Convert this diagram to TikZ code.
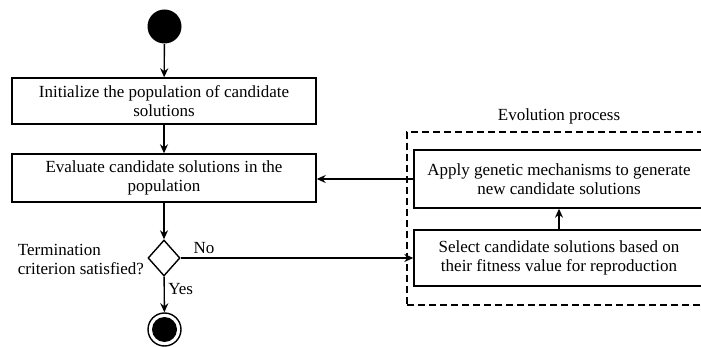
\documentclass[tikz,border=0pt]{standalone}
\usepackage{fontspec}
\setmainfont{Liberation Serif}
\usetikzlibrary{shapes.geometric, arrows.meta, positioning}

\begin{document}
\begin{tikzpicture}[x=1pt, y=-1pt, >={Stealth[length=9pt, width=8pt]},
    font=\fontsize{17}{19.5}\selectfont, line width=1.4pt]
    \tikzset{
      stepbox/.style={draw, rectangle, align=center, inner sep=2pt},
      decision/.style={draw, diamond, minimum width=32pt, minimum height=36pt, inner sep=0pt, aspect=0.9},
      flow/.style={->}
    }
    \useasboundingbox (0,0) rectangle (701,347);
    \clip (0,0) rectangle (701,347);
    % Start and main flow
    \node[circle, fill=black, minimum size=34pt, inner sep=0pt] (start) at (164.5,26.5) {};
    \node[stepbox, minimum width=304pt, minimum height=46pt] (init) at (164,101)
      {Initialize the population of candidate\\solutions};
    \node[stepbox, minimum width=304pt, minimum height=48pt] (eval) at (164,178)
      {Evaluate candidate solutions in the\\population};
    \node[decision] (check) at (164,258) {};
    \node[align=left, anchor=east] (critlabel) at (148,259.5)
      {Termination\\criterion satisfied?};
    \node[circle, draw, minimum size=33pt, inner sep=0pt] (stop) at (164.5,329.5) {};
    \node[circle, fill=black, minimum size=25pt, inner sep=0pt] (stopin) at (stop) {};
    % Evolution process
    \node[stepbox, minimum width=290pt, minimum height=58pt] (apply) at (559,179)
      {Apply genetic mechanisms to generate\\new candidate solutions};
    \node[stepbox, minimum width=290pt, minimum height=56pt] (select) at (559,258)
      {Select candidate solutions based on\\their fitness value for reproduction};
    \node[draw, dashed, dash pattern=on 7pt off 4pt, minimum width=304pt, minimum height=173pt] (evo) at (559,218.5) {};
    \node (evolabel) at (559,116) {Evolution process};
    % Connectors
    \draw[flow] (start) -- (init);
    \draw[flow] (init) -- (eval);
    \draw[flow] (eval) -- (check);
    \draw[flow] (check) -- node[right, pos=0.35] (yes) {Yes} (stop);
    \draw[flow] (check.east) -- node[above, pos=0.1] (no) {No} (select.west);
    \draw[flow] (select) -- (apply);
    \draw[flow] (apply.west) -- (eval.east |- apply.west);
  \end{tikzpicture}
\end{document}
